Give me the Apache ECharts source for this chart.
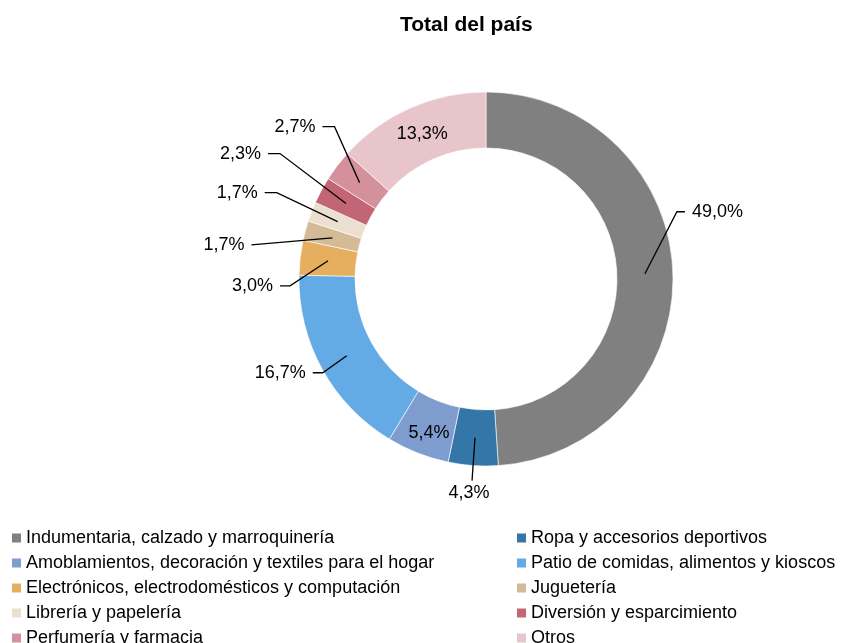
<!DOCTYPE html>
<html>
<head>
<meta charset="utf-8">
<script src="https://cdn.jsdelivr.net/npm/echarts@6/dist/echarts.min.js"></script>
<style>
  html, body { margin: 0; padding: 0; background: #fff; }
  #chart { width: 852px; height: 643px; }
</style>
</head>
<body>
<div id="chart"></div>
<script>
// rubros y participación (%)
const categories = [
  'Indumentaria, calzado y marroquinería',
  'Ropa y accesorios deportivos',
  'Amoblamientos, decoración y textiles para el hogar',
  'Patio de comidas, alimentos y kioscos',
  'Electrónicos, electrodomésticos y computación',
  'Juguetería',
  'Librería y papelería',
  'Diversión y esparcimiento',
  'Perfumería y farmacia',
  'Otros'
];
const values = [49.0, 4.3, 5.4, 16.7, 3.0, 1.7, 1.7, 2.3, 2.7, 13.3];
const colors = ['#808080', '#3476A8', '#7F9CCF', '#64ABE6', '#E6AE5F', '#D4BB98', '#EBDFCF', '#C26575', '#D4919C', '#E8C5CB'];

// líneas guía estilo Excel: [dx, dy] desde mitad del anillo hasta el codo, y tramo horizontal
// null = etiqueta dentro del anillo
const leaderOffsets = [
  [32, -62, 8],
  [-3, 43, 0],
  null,
  [-24, 17, -10],
  [-38, 25, -10],
  [-81, 7, 0],
  [-61, -29, -12],
  [-66, -50, -12],
  [-25, -56, -12],
  null
];
const labelGap = 7;

const fmt = v => v.toFixed(1).replace('.', ',') + '%';
const font = '"Liberation Sans", Arial, sans-serif';

let myChart = echarts.init(document.getElementById('chart'));

const ringData = categories.map((name, i) => ({
  name,
  value: values[i],
  label: { show: leaderOffsets[i] === null }
}));
const outerData = categories.map((name, i) => ({
  name,
  value: values[i],
  label: { show: leaderOffsets[i] !== null },
  labelLine: { show: leaderOffsets[i] !== null }
}));

const leftNames = categories.filter((c, i) => i % 2 === 0);
const rightNames = categories.filter((c, i) => i % 2 === 1);

const legendBase = {
  orient: 'vertical',
  top: 524,
  height: 130,
  itemWidth: 9,
  itemHeight: 9,
  itemGap: 7,
  icon: 'rect',
  selectedMode: false,
  itemStyle: { borderWidth: 0 },
  textStyle: { fontFamily: font, fontSize: 18, color: '#000', lineHeight: 18 }
};

function placeLabel(params) {
  const off = leaderOffsets[params.dataIndex];
  const pts = params.labelLinePoints;
  if (!off || !pts) return {};
  const p0 = pts[0];
  const elbow = [p0[0] + off[0], p0[1] + off[1]];
  const end = [elbow[0] + off[2], elbow[1]];
  // etiqueta debajo del anillo (línea casi vertical)
  if (Math.abs(off[0]) < Math.abs(off[1]) / 4 && off[2] === 0) {
    return {
      x: end[0] - 3, y: end[1] + 3,
      align: 'center', verticalAlign: 'top',
      labelLinePoints: [p0, elbow, end]
    };
  }
  const side = off[0] < 0 ? -1 : 1;
  return {
    x: end[0] + side * labelGap, y: end[1],
    align: side < 0 ? 'right' : 'left', verticalAlign: 'middle',
    labelLinePoints: [p0, elbow, end]
  };
}

let option = {
  animation: false,
  color: colors,
  title: {
    text: 'Total del país',
    left: 395,
    top: 10,
    textStyle: { fontFamily: font, fontSize: 21, fontWeight: 'bold', color: '#000' }
  },
  legend: [
    Object.assign({}, legendBase, { left: 7, data: leftNames }),
    Object.assign({}, legendBase, { left: 512, data: rightNames })
  ],
  series: [
    {
      name: 'anillo',
      type: 'pie',
      z: 2,
      center: [486, 279],
      radius: [131, 187],
      startAngle: 90,
      clockwise: true,
      silent: true,
      itemStyle: { borderColor: '#fff', borderWidth: 0.6 },
      label: {
        position: 'inside',
        formatter: p => fmt(p.value),
        fontFamily: font,
        fontSize: 18,
        color: '#000',
        offset: [2, 3]
      },
      labelLine: { show: false },
      data: ringData
    },
    {
      // serie transparente por encima: las líneas guía arrancan a mitad del anillo
      name: 'etiquetas',
      type: 'pie',
      z: 5,
      center: [486, 279],
      radius: [0, 159],
      startAngle: 90,
      clockwise: true,
      silent: true,
      avoidLabelOverlap: false,
      itemStyle: { color: 'rgba(0,0,0,0)' },
      label: {
        position: 'outside',
        formatter: p => fmt(p.value),
        fontFamily: font,
        fontSize: 18,
        color: '#000'
      },
      labelLine: {
        length: 20,
        length2: 10,
        lineStyle: { color: '#000', width: 1.3 }
      },
      labelLayout: placeLabel,
      data: outerData
    }
  ]
};
myChart.setOption(option);
</script>
</body>
</html>
